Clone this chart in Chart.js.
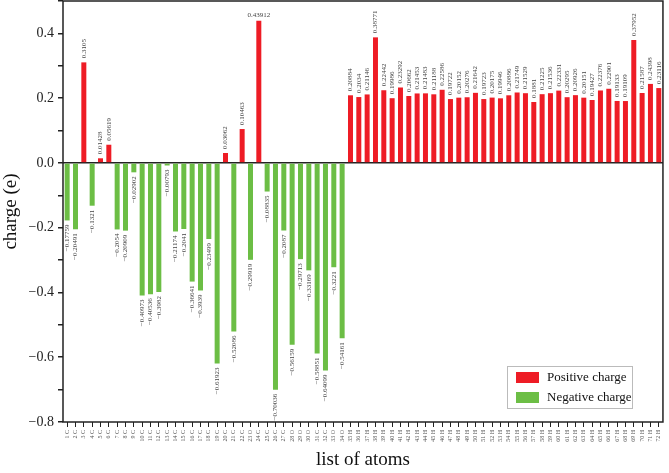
<!DOCTYPE html>
<html>
<head>
<meta charset="utf-8">
<script src="https://cdn.jsdelivr.net/npm/chart.js@4/dist/chart.umd.min.js"></script>
<style>
  html, body { margin: 0; padding: 0; background: #fff; }
  #wrap { width: 669px; height: 473px; }
</style>
</head>
<body>
<div id="wrap"><canvas id="chart1"></canvas></div>
<script>
const atoms = ["1 C","2 C","3 C","4 C","5 C","6 C","7 C","8 C","9 C","10 C","11 C","12 C",
  "13 C","14 C","15 C","16 C","17 C","18 C","19 C","20 C","21 C","22 C","23 O","24 C",
  "25 C","26 C","27 C","28 O","29 O","30 O","31 C","32 C","33 O","34 O","35 H","36 H",
  "37 H","38 H","39 H","40 H","41 H","42 H","43 H","44 H","45 H","46 H","47 H","48 H",
  "49 H","50 H","51 H","52 H","53 H","54 H","55 H","56 H","57 H","58 H","59 H","60 H",
  "61 H","62 H","63 H","64 H","65 H","66 H","67 H","68 H","69 H","70 H","71 H","72 H"];

const charges = [-0.17759, -0.20491, 0.3105, -0.1321, 0.01428, 0.05619, -0.2054, -0.20909,
  -0.02902, -0.40973, -0.40536, -0.3982, -0.00793, -0.21174, -0.2041, -0.36641, -0.3939,
  -0.23499, -0.61923, 0.03062, -0.52086, 0.10463, -0.29919, 0.43912, -0.08835, -0.70036,
  -0.2087, -0.56159, -0.29713, -0.33169, -0.58851, -0.64099, -0.3221, -0.54161,
  0.20884, 0.2034, 0.21146, 0.38771, 0.22442, 0.19986, 0.23292, 0.20662, 0.21453, 0.21483,
  0.21188, 0.22586, 0.19722, 0.20152, 0.20276, 0.21642, 0.19723, 0.20175, 0.19946, 0.20886,
  0.21749, 0.21529, 0.1881, 0.21225, 0.21536, 0.22331, 0.20295, 0.20926, 0.20151, 0.19427,
  0.22376, 0.22901, 0.19133, 0.19109, 0.37952, 0.21587, 0.24398, 0.23116];

const seriesNames = ["Positive charge", "Negative charge"];
const seriesColors = ["#ee1c25", "#6cbe45"];

const positive = charges.map(v => (v > 0 ? v : null));
const negative = charges.map(v => (v < 0 ? v : null));

const serif = "'Liberation Serif', 'DejaVu Serif', serif";

function fmt(v) {
  return (v < 0 ? "\u2212" : "") + String(Math.abs(v));
}

// value labels, rotated, above / below each bar
const barLabels = {
  id: "barLabels",
  afterDatasetsDraw(chart) {
    const ctx = chart.ctx;
    ctx.save();
    ctx.fillStyle = "#444";
    ctx.font = "7px " + serif;
    chart.data.datasets.forEach((ds, di) => {
      chart.getDatasetMeta(di).data.forEach((bar, i) => {
        const v = ds.data[i];
        if (v == null) return;
        const txt = fmt(v);
        if (v > 0.42) {
          ctx.textAlign = "center";
          ctx.textBaseline = "bottom";
          ctx.fillText(txt, bar.x, bar.y - 2);
          return;
        }
        ctx.save();
        ctx.translate(bar.x, v > 0 ? bar.y - 4 : bar.y + 4);
        ctx.rotate(-Math.PI / 2);
        ctx.textBaseline = "middle";
        ctx.textAlign = v > 0 ? "left" : "right";
        ctx.fillText(txt, 0, 0);
        ctx.restore();
      });
    });
    ctx.restore();
  }
};

// frame round the plot and legend box inside it
const frameLegend = {
  id: "frameLegend",
  afterDraw(chart) {
    const ctx = chart.ctx;
    const a = chart.chartArea;
    ctx.save();
    ctx.strokeStyle = "#222";
    ctx.lineWidth = 1.5;
    ctx.strokeRect(a.left, a.top, a.right - a.left, a.bottom - a.top);

    const bx = 507, by = 366, bw = 125, bh = 42;
    ctx.fillStyle = "#fff";
    ctx.fillRect(bx, by, bw, bh);
    ctx.strokeStyle = "#bbb";
    ctx.lineWidth = 1;
    ctx.strokeRect(bx + 0.5, by + 0.5, bw, bh);
    ctx.font = "13px " + serif;
    ctx.textBaseline = "middle";
    ctx.textAlign = "left";
    seriesNames.forEach((name, i) => {
      const y = by + 11 + i * 20;
      ctx.fillStyle = seriesColors[i];
      ctx.fillRect(bx + 9, y - 5, 23, 11);
      ctx.fillStyle = "#111";
      ctx.fillText(name, bx + 40, y + 1);
    });
    ctx.restore();
  }
};

new Chart(document.querySelector("#chart1"), {
  type: "bar",
  data: {
    labels: atoms,
    datasets: [
      { label: seriesNames[0], data: positive, backgroundColor: seriesColors[0] },
      { label: seriesNames[1], data: negative, backgroundColor: seriesColors[1] },
    ],
  },
  options: {
    responsive: true,
    maintainAspectRatio: false,
    animation: false,
    layout: { padding: { top: 1, right: 3, left: 0, bottom: 0 } },
    datasets: { bar: { barPercentage: 0.6, categoryPercentage: 1, skipNull: true } },
    plugins: { legend: { display: false }, tooltip: { enabled: false } },
    scales: {
      x: {
        stacked: true,
        offset: true,
        grid: { drawOnChartArea: false, drawTicks: true, tickLength: 5, color: "#222", offset: false },
        border: { display: false },
        ticks: {
          autoSkip: false,
          maxRotation: 90,
          minRotation: 90,
          padding: 3,
          color: "#555",
          font: { family: serif, size: 6 },
        },
        title: {
          display: true,
          text: "list of atoms",
          color: "#111",
          font: { family: serif, size: 19 },
          padding: { top: 0, bottom: 2 },
        },
        afterFit(scale) { scale.height = 51; },
      },
      y: {
        stacked: true,
        min: -0.8,
        max: 0.5,
        border: { display: false },
        grid: {
          drawTicks: true,
          tickLength: 5,
          lineWidth: 1.5,
          color: ctx => (ctx.tick && Math.abs(ctx.tick.value) < 1e-9 ? "#222" : "rgba(0,0,0,0)"),
          tickColor: "#222",
        },
        ticks: {
          stepSize: 0.1,
          padding: 4,
          color: "#222",
          font: { family: serif, size: 14 },
          callback(v) {
            const n = Math.round(v * 10);
            if (n % 2 !== 0 || n === 5) return "";
            return (n < 0 ? "\u2212" : "") + Math.abs(n / 10).toFixed(1);
          },
        },
        title: {
          display: true,
          text: "charge (e)",
          color: "#111",
          font: { family: serif, size: 19 },
          padding: { top: 0, bottom: 0 },
        },
        afterFit(scale) {
          scale.width = 63;
          scale.paddingTop = 0;
          scale.paddingBottom = 0;
        },
      },
    },
  },
  plugins: [barLabels, frameLegend],
});
</script>
</body>
</html>
